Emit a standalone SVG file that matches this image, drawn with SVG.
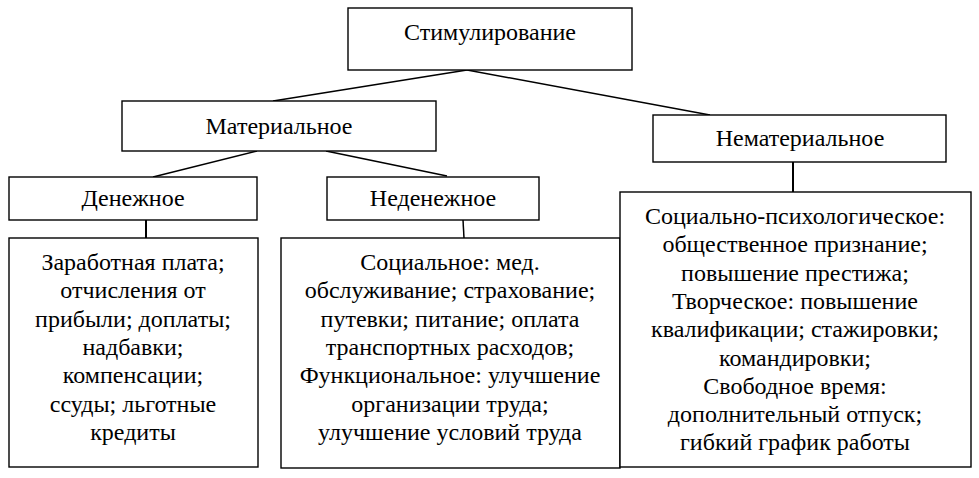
<svg xmlns="http://www.w3.org/2000/svg" width="979" height="478" viewBox="0 0 979 478">
<style>
.box{fill:#fff;stroke:#000;stroke-width:1.4}
.t{font-size:24px;fill:#000;text-anchor:middle}
.c{stroke:#000;stroke-width:1.5;fill:none}
</style>
<rect width="979" height="478" fill="#fff"/>
<g id="connectors">
<line class="c" x1="467" y1="70" x2="273" y2="101"/>
<line class="c" x1="467" y1="70" x2="710" y2="115"/>
<line class="c" x1="257" y1="151" x2="153" y2="177"/>
<line class="c" x1="326" y1="151" x2="447" y2="176"/>
<line class="c" x1="146" y1="220" x2="146" y2="238" style="stroke-width:2"/>
<line class="c" x1="463" y1="220" x2="464" y2="238"/>
<line class="c" x1="793" y1="162" x2="793" y2="192" style="stroke-width:2"/>
</g>
<g id="stimulirovanie">
<rect class="box" x="348" y="8" width="284" height="62"/>
<text class="t" font-family="Liberation Serif" x="490" y="40">Стимулирование</text>
</g>
<g id="materialnoe">
<rect class="box" x="122" y="101" width="314" height="50"/>
<text class="t" font-family="Liberation Serif" x="279" y="134">Материальное</text>
</g>
<g id="nematerialnoe">
<rect class="box" x="653" y="115" width="293" height="47"/>
<text class="t" font-family="Liberation Serif" x="800" y="146">Нематериальное</text>
</g>
<g id="denezhnoe">
<rect class="box" x="9" y="177" width="248" height="43"/>
<text class="t" font-family="Liberation Serif" x="133" y="206">Денежное</text>
</g>
<g id="nedenezhnoe">
<rect class="box" x="327" y="177" width="212" height="43"/>
<text class="t" font-family="Liberation Serif" x="433" y="206">Неденежное</text>
</g>
<g id="denezhnoe-content">
<rect class="box" x="9" y="238" width="249" height="229"/>
<text class="t" font-family="Liberation Serif" x="133" y="270">Заработная плата;</text>
<text class="t" font-family="Liberation Serif" x="133" y="298.3">отчисления от</text>
<text class="t" font-family="Liberation Serif" x="133" y="326.6">прибыли; доплаты;</text>
<text class="t" font-family="Liberation Serif" x="133" y="354.9">надбавки;</text>
<text class="t" font-family="Liberation Serif" x="133" y="383.2">компенсации;</text>
<text class="t" font-family="Liberation Serif" x="133" y="411.5">ссуды; льготные</text>
<text class="t" font-family="Liberation Serif" x="133" y="439.8">кредиты</text>
</g>
<g id="nedenezhnoe-content">
<rect class="box" x="281" y="238" width="339" height="230"/>
<text class="t" font-family="Liberation Serif" x="450" y="270">Социальное: мед.</text>
<text class="t" font-family="Liberation Serif" x="450" y="298.3">обслуживание; страхование;</text>
<text class="t" font-family="Liberation Serif" x="450" y="326.6">путевки; питание; оплата</text>
<text class="t" font-family="Liberation Serif" x="450" y="354.9">транспортных расходов;</text>
<text class="t" font-family="Liberation Serif" x="450" y="383.2">Функциональное: улучшение</text>
<text class="t" font-family="Liberation Serif" x="450" y="411.5">организации труда;</text>
<text class="t" font-family="Liberation Serif" x="450" y="439.8">улучшение условий труда</text>
</g>
<g id="nematerialnoe-content">
<rect class="box" x="620" y="192" width="351" height="275"/>
<text class="t" font-family="Liberation Serif" x="795" y="224">Социально-психологическое:</text>
<text class="t" font-family="Liberation Serif" x="795" y="252.3">общественное признание;</text>
<text class="t" font-family="Liberation Serif" x="795" y="280.6">повышение престижа;</text>
<text class="t" font-family="Liberation Serif" x="795" y="308.9">Творческое: повышение</text>
<text class="t" font-family="Liberation Serif" x="795" y="337.2">квалификации; стажировки;</text>
<text class="t" font-family="Liberation Serif" x="795" y="365.5">командировки;</text>
<text class="t" font-family="Liberation Serif" x="795" y="393.8">Свободное время:</text>
<text class="t" font-family="Liberation Serif" x="795" y="422.1">дополнительный отпуск;</text>
<text class="t" font-family="Liberation Serif" x="795" y="450.4">гибкий график работы</text>
</g>
</svg>
